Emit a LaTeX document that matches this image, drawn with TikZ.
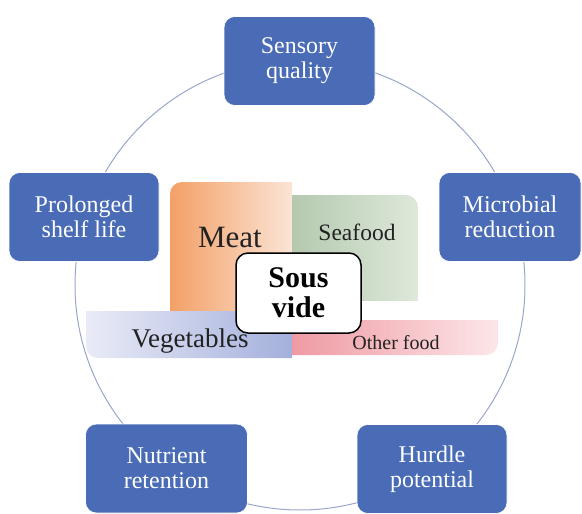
\documentclass[tikz,border=0pt]{standalone}
\usepackage{fontspec}
\setmainfont{Liberation Serif}
\definecolor{boxblue}{HTML}{4A6CB6}
\definecolor{ringcol}{HTML}{9AA6CC}
\definecolor{meatL}{HTML}{F3A066}
\definecolor{meatR}{HTML}{FBE4D6}
\definecolor{seaL}{HTML}{B4C9AF}
\definecolor{seaR}{HTML}{DEE8DB}
\definecolor{vegL}{HTML}{E9EBF7}
\definecolor{vegR}{HTML}{A4B0DC}
\definecolor{othL}{HTML}{EF9AA3}
\definecolor{othR}{HTML}{FCE6E8}
\definecolor{labcol}{HTML}{222222}
\tikzset{
  outcome/.style={rectangle, rounded corners=11pt, fill=boxblue, draw=white, line width=0.6pt,
    text=white, align=center, minimum height=89pt, inner sep=0pt,
    font=\fontsize{24}{25}\selectfont},
  foodlab/.style={text=labcol, inner sep=0pt},
  ring/.style={draw=ringcol, line width=1pt},
  core/.style={rectangle, rounded corners=12pt, draw=black, line width=1.5pt, fill=white,
    minimum width=125pt, minimum height=80pt, align=center, inner sep=0pt,
    font=\fontsize{30}{30}\selectfont\bfseries}
}
\begin{document}
\begin{tikzpicture}[x=1pt,y=-1pt]
\useasboundingbox (0,0) rectangle (582,514);
% ring
\coordinate (ringc) at (300,285);
\draw[ring] (ringc) circle [radius=225];
% meat
\begin{scope}
\clip[rounded corners=12pt] (170,182) rectangle (320,330);
\shade[left color=meatL, right color=meatR] (170,182) rectangle (292,310);
\end{scope}
% seafood
\begin{scope}
\clip[rounded corners=12pt] (270,195) rectangle (418,320);
\shade[left color=seaL, right color=seaR] (292,195) rectangle (418,300);
\end{scope}
% vegetables
\begin{scope}
\clip[rounded corners=12pt] (86,280) rectangle (310,358);
\shade[left color=vegL, right color=vegR] (86,311) rectangle (292,358);
\end{scope}
% other food
\begin{scope}
\clip[rounded corners=12pt] (270,290) rectangle (498,355);
\shade[left color=othL, right color=othR] (292,320) rectangle (498,355);
\end{scope}
\node[foodlab, font=\fontsize{31}{33}\selectfont] (meat) at (230,238) {Meat};
\node[foodlab, font=\fontsize{23.5}{25}\selectfont] (seafood) at (357,232) {Seafood};
\node[foodlab, font=\fontsize{27}{29}\selectfont] (veg) at (190,341) {Vegetables};
\node[foodlab, font=\fontsize{20}{22}\selectfont] (other) at (396,343) {Other food};
\node[core] (sous) at (298.5,293) {Sous\\vide};
% outcome boxes
\node[outcome, minimum width=151pt] (sensory) at (299.5,61) {Sensory\\quality};
\node[outcome, minimum width=150pt] (shelf) at (84,217) {Prolonged\\shelf life};
\node[outcome, minimum width=142pt] (microbial) at (510,217) {Microbial\\reduction};
\node[outcome, minimum width=162pt] (nutrient) at (166.5,468.5) {Nutrient\\retention};
\node[outcome, minimum width=150pt] (hurdle) at (432,469) {Hurdle\\potential};
\end{tikzpicture}
\end{document}
